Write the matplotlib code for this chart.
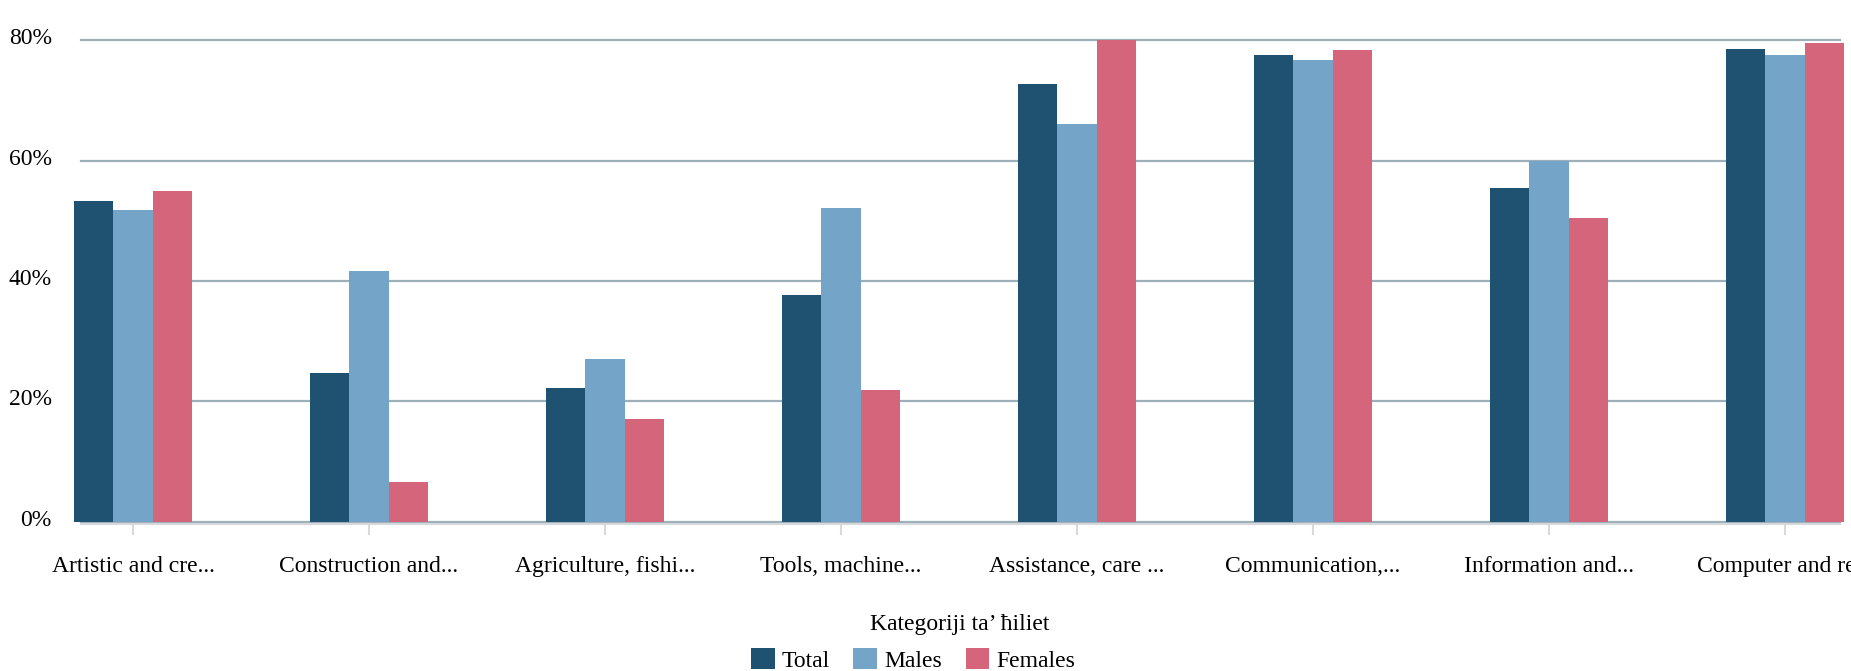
"""
plot.py
Grouped bars: share by skill category, Total / Males / Females.
"""

import numpy as np
import matplotlib
matplotlib.use("Agg")
import matplotlib.pyplot as plt
from matplotlib.transforms import ScaledTranslation

categories = [
    "Artistic and cre...",
    "Construction and...",
    "Agriculture, fishi...",
    "Tools, machine...",
    "Assistance, care ...",
    "Communication,...",
    "Information and...",
    "Computer and re...",
]
total = [53.3, 24.7, 22.2, 37.6, 72.8, 77.6, 55.5, 78.6]
males = [51.8, 41.7, 27.0, 52.2, 66.1, 76.7, 60.0, 77.6]
females = [55.0, 6.6, 17.1, 21.9, 80.0, 78.4, 50.5, 79.6]

series = ["Total", "Males", "Females"]
colors = ["#1f5270", "#74a5c9", "#d4657b"]
y_ticks = [0, 20, 40, 60, 80]

plt.rcParams["font.family"] = ["Liberation Serif", "DejaVu Serif"]

W, H = 1851, 671
fig = plt.figure(figsize=(W / 100, H / 100), dpi=100)
ax = fig.add_axes([81 / W, 1 - 521.7 / H, (1840 - 81) / W, (521.7 - 40.3) / H])

x = np.arange(len(categories))
bw = 0.1674
for k, (vals, name) in enumerate(zip([total, males, females], series)):
    ax.bar(x + (k - 1) * bw, vals, width=bw, color=colors[k], label=name,
           clip_on=False, zorder=3)

ax.set_xlim(-0.2203, 7.2331)
ax.set_ylim(0, 80)
ax.set_yticks(y_ticks)
ax.set_yticklabels([f"{v}%" for v in y_ticks])
ax.set_xticks(x)
ax.set_xticklabels(categories)

ax.set_axisbelow(True)
ax.yaxis.grid(True, color="#9dafb9", linewidth=1.6)
for line in ax.get_ygridlines():
    line.set_clip_on(False)

for s in ["top", "right", "left"]:
    ax.spines[s].set_visible(False)
ax.spines["bottom"].set_color("#d5d9dc")
ax.spines["bottom"].set_linewidth(1.5)
ax.spines["bottom"].set_position(("outward", 1.5))

ax.tick_params(axis="y", length=0, pad=21, labelsize=17, labelcolor="#000000")
ax.tick_params(axis="x", length=8, width=1.5, color="#d9d9d9", pad=15.5,
               labelsize=17, labelcolor="#000000")

off = ScaledTranslation(0, 4 / 100, fig.dpi_scale_trans)
for lab in ax.get_yticklabels():
    lab.set_transform(lab.get_transform() + off)

fig.text(960 / W, 1 - 630 / H, "Kategoriji ta’ ħiliet", ha="center",
         va="baseline", fontsize=17, color="#000000")

fig.legend(loc="center", bbox_to_anchor=(913 / W, 1 - 660 / H), ncol=3,
           frameon=False, fontsize=17, handlelength=1.0, handleheight=1.0,
           handletextpad=0.3, columnspacing=1.0, borderpad=0, borderaxespad=0)

fig.savefig("out.png", dpi=100)
